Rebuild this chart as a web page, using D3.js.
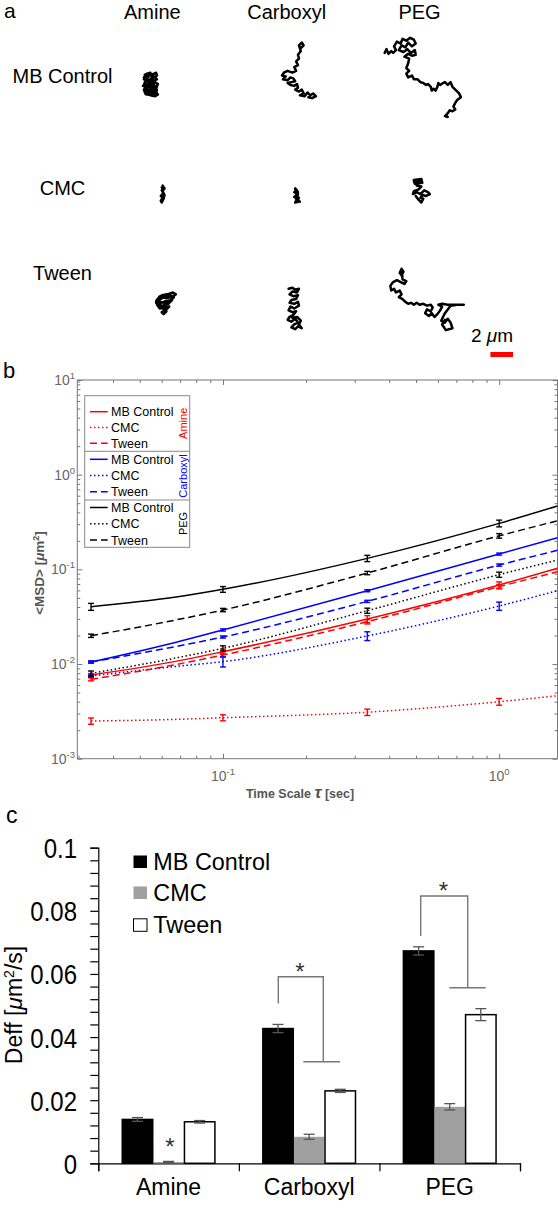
<!DOCTYPE html>
<html><head><meta charset="utf-8">
<script src="https://cdn.jsdelivr.net/npm/d3@7"></script>
<style>
body{margin:0;background:#fff}
svg{display:block}
text{font-family:"Liberation Sans",Arial,Helvetica,sans-serif}
</style>
</head><body>
<svg id="fig" width="558" height="1211"></svg>
<script>
// ================= DATA =================
const surfaces = ["Amine", "Carboxyl", "PEG"];
const treatments = ["MB Control", "CMC", "Tween"];

// ---- Panel a: trajectories, camera pixels relative to cell anchor (1 px = 1/12 µm)
const UM_PER_PX = 1 / 12;
const scaleBarUm = 2;
const trajAmineMB = [[-2,-12],[-8,-10],[-4,-7],[-9,-5],[-3,-4],[2,-8],[5,-5],[0,-2],[-6,0],[-10,2],[-5,4],[1,1],[5,3],[2,6],[-4,7],[-8,9],[-3,11],[2,9],[6,11],[3,13],[-2,12],[-6,8],[-1,5],[4,4],[6,0],[1,-3],[-5,-3],[-9,-7],[-6,-11],[0,-10],[4,-12],[5,-9],[1,-6],[-3,0],[-7,5],[-2,8],[4,7],[5,10],[0,12],[-7,11],[-9,6],[-5,2],[-8,-2],[-4,-9],[2,-11],[-1,-8],[3,-2],[-2,3],[2,5],[-6,-6],[-9,1],[-4,10],[3,11],[5,6],[0,3],[-4,-2]];
const trajCarboxylMB = [[15,-38],[18,-41],[16,-44],[13,-41],[15,-35],[12,-31],[13,-27],[10,-24],[12,-20],[8,-18],[10,-14],[6,-12],[1,-14],[-3,-12],[-5,-9],[-1,-8],[-4,-5],[1,-4],[4,-7],[7,-6],[9,-3],[5,-2],[1,-1],[4,1],[8,2],[11,0],[12,4],[9,6],[13,8],[16,6],[18,10],[14,12],[19,13],[22,9],[25,12],[28,10],[31,13],[27,15],[23,14]];
const trajPEGMB = [[-37,-33],[-35,-37],[-33,-32],[-30,-35],[-28,-33],[-25,-36],[-27,-40],[-24,-45],[-20,-43],[-18,-48],[-14,-46],[-10,-49],[-6,-47],[-4,-43],[-8,-40],[-12,-44],[-15,-39],[-19,-41],[-22,-36],[-17,-34],[-13,-37],[-9,-33],[-5,-36],[-4,-31],[-8,-30],[-12,-32],[-16,-29],[-11,-27],[-12,-22],[-14,-17],[-11,-14],[-14,-11],[-12,-7],[-8,-9],[-6,-5],[-2,-5],[1,-2],[4,-1],[7,1],[9,0],[12,3],[13,7],[15,5],[17,7],[19,3],[20,-1],[22,1],[25,-1],[27,-2],[30,1],[33,-2],[35,3],[38,6],[42,10],[44,14],[40,17],[38,20],[36,24],[38,27],[35,29],[32,28],[30,31],[28,33],[30,35],[27,34]];
const trajAmineCMC = [[11,-10],[13,-7],[10,-5],[12,-2],[9,1],[11,3],[9,6],[10,8],[12,4],[13,0],[11,-3],[12,-6],[10,-8]];
const trajCarboxylCMC = [[9,-7],[11,-5],[8,-3],[12,-1],[9,1],[13,3],[10,5],[14,7],[9,8],[11,4],[8,2],[12,0],[10,-4],[9,-6],[12,-3],[10,2],[13,6]];
const trajPEGCMC = [[-6,-16],[2,-17],[3,-13],[-5,-12],[-6,-15],[0,-15],[-3,-10],[2,-9],[-1,-6],[-6,-4],[-7,-1],[-3,-3],[1,-1],[5,-5],[9,-3],[11,-1],[7,1],[3,0],[1,3],[4,4],[2,8],[-1,5],[-4,1]];
const trajAmineTween = [[6,0],[10,-5],[16,-6],[22,-8],[25,-6],[20,-3],[14,-2],[8,-4],[4,1],[9,3],[15,1],[21,0],[17,4],[11,6],[5,5],[8,9],[13,8],[18,7],[14,11],[10,13],[12,15],[15,12],[11,9],[7,6],[4,3],[9,-1],[13,-4],[19,-5],[23,-3],[18,2],[12,3],[7,2],[10,7],[16,9]];
const trajCarboxylTween = [[2,-12],[6,-13],[9,-11],[13,-12],[11,-8],[6,-9],[3,-6],[7,-4],[12,-5],[10,-1],[5,0],[3,3],[8,4],[12,2],[13,6],[8,9],[4,7],[2,11],[6,13],[10,12],[7,16],[3,18],[1,21],[5,23],[9,20],[12,24],[8,26],[5,29],[9,31],[12,28],[16,30],[13,26],[15,22],[11,18],[6,19]];
const trajPEGTween = [[-19,-33],[-17,-30],[-19,-26],[-21,-29],[-19,-33],[-18,-22],[-14,-20],[-16,-17],[-20,-19],[-24,-21],[-28,-19],[-31,-15],[-30,-10],[-27,-12],[-25,-8],[-21,-10],[-19,-6],[-22,-3],[-18,-1],[-15,2],[-12,4],[-9,3],[-6,5],[-3,3],[0,5],[4,4],[8,6],[12,5],[14,8],[12,12],[8,10],[6,14],[10,17],[13,14],[16,18],[19,15],[22,11],[24,7],[20,5],[24,4],[30,5],[38,5],[47,5],[40,5],[33,6],[30,10],[27,14],[25,18],[23,22],[27,24],[30,20],[33,24],[35,30],[28,32],[24,26],[27,21]];

// ---- Panel b: MSD vs time scale
const tau = [0.0333, 0.0667, 0.1, 0.333, 1.0, 1.626];
const tauErr = [0.0333, 0.1, 0.333, 1.0];
const msdAmineMB = [0.00766, 0.0106, 0.0135, 0.0299, 0.0684, 0.1026];
const msdAmineCMC = [0.0025, 0.0026, 0.00271, 0.0031, 0.0040, 0.00463];
const msdAmineTween = [0.00689, 0.0098, 0.01245, 0.028, 0.0656, 0.0944];
const msdCarbMB = [0.0105, 0.0168, 0.0229, 0.0595, 0.145, 0.216];
const msdCarbCMC = [0.00747, 0.0094, 0.0106, 0.0198, 0.041, 0.0595];
const msdCarbTween = [0.0105, 0.0152, 0.0193, 0.0459, 0.111, 0.159];
const msdPegMB = [0.0403, 0.0506, 0.0615, 0.1306, 0.306, 0.467];
const msdPegCMC = [0.00798, 0.0115, 0.01466, 0.0366, 0.0879, 0.1255];
const msdPegTween = [0.0199, 0.029, 0.0372, 0.0915, 0.226, 0.326];
const errAmineMB = [0.00028, 0.00085, 0.0025, 0.0052];
const errAmineCMC = [0.00019, 0.0002, 0.00024, 0.00033];
const errAmineTween = [0.00025, 0.0006, 0.0015, 0.0035];
const errCarbMB = [0.00026, 0.0006, 0.0015, 0.0036];
const errCarbCMC = [0.0002, 0.0013, 0.0021, 0.0041];
const errCarbTween = [0.00025, 0.0005, 0.0012, 0.003];
const errPegMB = [0.0034, 0.0043, 0.0099, 0.025];
const errPegCMC = [0.00046, 0.0009, 0.0023, 0.0055];
const errPegTween = [0.0008, 0.0015, 0.0037, 0.0124];
const msdMajorTicks = [1e-3, 1e-2, 1e-1, 1, 10];
const msdTickExp = ["-3", "-2", "-1", "0", "1"];
const tauMajorTicks = [0.1, 1];
const tauTickExp = ["-1", "0"];

// ---- Panel c: Deff bars
const deffMB = [0.0139, 0.0427, 0.0673];
const deffCMC = [0.0004, 0.0084, 0.0179];
const deffTween = [0.01315, 0.02295, 0.0471];
const deffErrMB = [0.0006, 0.0013, 0.0013];
const deffErrCMC = [0.0002, 0.0008, 0.001];
const deffErrTween = [0.0004, 0.0005, 0.0019];
const deffTicks = [0, 0.02, 0.04, 0.06, 0.08, 0.1];
const deffTickLabels = ["0", "0.02", "0.04", "0.06", "0.08", "0.1"];

// ================= DRAW =================
const svg = d3.select("#fig");

// ---------- Panel a ----------
const gA = svg.append("g");
gA.append("text").attr("x", 4).attr("y", 18).attr("font-size", 21).text("a");
const colX = d3.scaleOrdinal(surfaces, [152.3, 286.7, 419.5]);
const rowY = d3.scaleOrdinal(treatments, [84, 195, 300]);
const rowLabelY = d3.scaleOrdinal(treatments, [83, 195, 280]);
const um = d3.scaleLinear().domain([0, 1]).range([0, 11.3]);

surfaces.forEach(s => gA.append("text").attr("x", colX(s)).attr("y", 18.5)
  .attr("text-anchor", "middle").attr("font-size", 20).text(s));
treatments.forEach(t => gA.append("text").attr("x", 62.5).attr("y", rowLabelY(t))
  .attr("text-anchor", "middle").attr("font-size", 20).text(t));

const trajList = [
  {s: "Amine", t: "MB Control", pts: trajAmineMB},
  {s: "Carboxyl", t: "MB Control", pts: trajCarboxylMB},
  {s: "PEG", t: "MB Control", pts: trajPEGMB},
  {s: "Amine", t: "CMC", pts: trajAmineCMC},
  {s: "Carboxyl", t: "CMC", pts: trajCarboxylCMC},
  {s: "PEG", t: "CMC", pts: trajPEGCMC},
  {s: "Amine", t: "Tween", pts: trajAmineTween},
  {s: "Carboxyl", t: "Tween", pts: trajCarboxylTween},
  {s: "PEG", t: "Tween", pts: trajPEGTween}
];
trajList.forEach(tr => {
  const line = d3.line()
    .x(p => colX(tr.s) + um(p[0] * UM_PER_PX))
    .y(p => rowY(tr.t) + um(p[1] * UM_PER_PX));
  gA.append("path").attr("d", line(tr.pts)).attr("fill", "none")
    .attr("stroke", "#000").attr("stroke-width", 2.5)
    .attr("stroke-linejoin", "round").attr("stroke-linecap", "round");
});
gA.append("rect").attr("x", 513 - um(scaleBarUm)).attr("y", 352)
  .attr("width", um(scaleBarUm)).attr("height", 5).attr("fill", "#ff0000");
const sbt = gA.append("text").attr("x", 513).attr("y", 342).attr("text-anchor", "end").attr("font-size", 19);
sbt.append("tspan").text(scaleBarUm + " ");
sbt.append("tspan").attr("font-style", "italic").text("\u03bc");
sbt.append("tspan").text("m");

// ---------- Panel b ----------
const gB = svg.append("g");
gB.append("text").attr("x", 3).attr("y", 378).attr("font-size", 22).text("b");
const L = 77.3, R = 557.5, T = 380, B = 758.7;
const bx = d3.scaleLog().domain([0.0297, 1.626]).range([L, R]);
const by = d3.scaleLog().domain([1e-3, 10]).range([B, T]);
const axCol = "#777";

function styleAxis(g) {
  g.select(".domain").remove();
  g.selectAll(".tick line").attr("stroke", axCol);
  g.selectAll(".tick text").remove();
}
const yMinor = by.ticks().filter(v => !msdMajorTicks.includes(v));
const xMinor = bx.ticks().filter(v => !tauMajorTicks.some(m => Math.abs(m - v) < 1e-9));
gB.append("g").attr("transform", `translate(${L},0)`).call(d3.axisLeft(by).tickValues(msdMajorTicks).tickSize(-5)).call(styleAxis);
gB.append("g").attr("transform", `translate(${L},0)`).call(d3.axisLeft(by).tickValues(yMinor).tickSize(-3)).call(styleAxis);
gB.append("g").attr("transform", `translate(${R},0)`).call(d3.axisRight(by).tickValues(msdMajorTicks).tickSize(-5)).call(styleAxis);
gB.append("g").attr("transform", `translate(${R},0)`).call(d3.axisRight(by).tickValues(yMinor).tickSize(-3)).call(styleAxis);
gB.append("g").attr("transform", `translate(0,${B})`).call(d3.axisBottom(bx).tickValues(tauMajorTicks).tickSize(-5)).call(styleAxis);
gB.append("g").attr("transform", `translate(0,${B})`).call(d3.axisBottom(bx).tickValues(xMinor).tickSize(-3)).call(styleAxis);
gB.append("g").attr("transform", `translate(0,${T})`).call(d3.axisTop(bx).tickValues(tauMajorTicks).tickSize(-5)).call(styleAxis);
gB.append("g").attr("transform", `translate(0,${T})`).call(d3.axisTop(bx).tickValues(xMinor).tickSize(-3)).call(styleAxis);
gB.append("rect").attr("x", L).attr("y", T).attr("width", R - L).attr("height", B - T)
  .attr("fill", "none").attr("stroke", axCol).attr("stroke-width", 1);

msdMajorTicks.forEach((v, i) => {
  const t = gB.append("text").attr("x", 75).attr("y", by(v) + 5).attr("text-anchor", "end")
    .attr("font-size", 14).attr("fill", "#666");
  t.append("tspan").text("10");
  t.append("tspan").attr("dy", -6).attr("font-size", 9.5).text(msdTickExp[i]);
});
tauMajorTicks.forEach((v, i) => {
  const t = gB.append("text").attr("x", bx(v)).attr("y", 780.5).attr("text-anchor", "middle")
    .attr("font-size", 14).attr("fill", "#666");
  t.append("tspan").text("10");
  t.append("tspan").attr("dy", -6).attr("font-size", 9.5).text(tauTickExp[i]);
});
const xt = gB.append("text").attr("x", 300).attr("y", 798).attr("text-anchor", "middle")
  .attr("font-size", 12.5).attr("font-weight", "bold").attr("fill", "#555");
xt.append("tspan").text("Time Scale ");
xt.append("tspan").attr("font-style", "italic").attr("font-size", 17).text("\u03c4");
xt.append("tspan").text(" [sec]");
const yt = gB.append("text").attr("transform", "translate(44,573) rotate(-90)").attr("text-anchor", "middle")
  .attr("font-size", 13.5).attr("font-weight", "bold").attr("fill", "#555");
yt.append("tspan").text("<MSD> [");
yt.append("tspan").attr("font-style", "italic").text("\u03bc");
yt.append("tspan").text("m");
yt.append("tspan").attr("dy", -5).attr("font-size", 9).text("2");
yt.append("tspan").attr("dy", 5).text("]");

const dashes = {"MB Control": null, "CMC": "1.5,2.5", "Tween": "7,4"};
const series = [
  {sf: "Amine", tr: "MB Control", v: msdAmineMB, e: errAmineMB, c: "#ff0000"},
  {sf: "Amine", tr: "CMC", v: msdAmineCMC, e: errAmineCMC, c: "#ff0000"},
  {sf: "Amine", tr: "Tween", v: msdAmineTween, e: errAmineTween, c: "#ff0000"},
  {sf: "Carboxyl", tr: "MB Control", v: msdCarbMB, e: errCarbMB, c: "#0000ff"},
  {sf: "Carboxyl", tr: "CMC", v: msdCarbCMC, e: errCarbCMC, c: "#0000ff"},
  {sf: "Carboxyl", tr: "Tween", v: msdCarbTween, e: errCarbTween, c: "#0000ff"},
  {sf: "PEG", tr: "MB Control", v: msdPegMB, e: errPegMB, c: "#000000"},
  {sf: "PEG", tr: "CMC", v: msdPegCMC, e: errPegCMC, c: "#000000"},
  {sf: "PEG", tr: "Tween", v: msdPegTween, e: errPegTween, c: "#000000"}
];
const msdLine = d3.line().x(d => bx(d[0])).y(d => by(d[1])).curve(d3.curveMonotoneX);
series.slice().reverse().forEach(s => {
  gB.append("path").attr("d", msdLine(tau.map((t, i) => [t, s.v[i]])))
    .attr("fill", "none").attr("stroke", s.c).attr("stroke-width", 1.5)
    .attr("stroke-dasharray", dashes[s.tr]);
});
series.forEach(s => {
  tauErr.forEach((t, k) => {
    const m = s.v[tau.indexOf(t)], e = s.e[k];
    const x = bx(t), y1 = by(m - e), y2 = by(m + e);
    const g = gB.append("g").attr("stroke", s.c).attr("stroke-width", 1.4);
    g.append("line").attr("x1", x).attr("x2", x).attr("y1", y1).attr("y2", y2);
    g.append("line").attr("x1", x - 3).attr("x2", x + 3).attr("y1", y1).attr("y2", y1);
    g.append("line").attr("x1", x - 3).attr("x2", x + 3).attr("y1", y2).attr("y2", y2);
  });
});

const lgB = gB.append("g");
lgB.append("rect").attr("x", 84.7).attr("y", 395.7).attr("width", 105).attr("height", 151.6)
  .attr("fill", "#fff").attr("stroke", "#888").attr("stroke-width", 1);
[451.3, 500].forEach(y => lgB.append("line").attr("x1", 84.7).attr("x2", 189.7)
  .attr("y1", y).attr("y2", y).attr("stroke", "#888").attr("stroke-width", 1));
const legRowY = [411.7, 427.5, 443.3, 459.3, 475.5, 491.7, 507.5, 523.8, 540];
series.forEach((s, i) => {
  lgB.append("line").attr("x1", 90).attr("x2", 107.7).attr("y1", legRowY[i]).attr("y2", legRowY[i])
    .attr("stroke", s.c).attr("stroke-width", 1.5).attr("stroke-dasharray", dashes[s.tr]);
  lgB.append("text").attr("x", 111).attr("y", legRowY[i] + 4.5).attr("font-size", 12.5).text(s.tr);
});
const grpColor = ["#ff0000", "#0000ff", "#000000"];
const grpCy = [423.3, 476, 523.5];
surfaces.forEach((sf, i) => {
  lgB.append("text").attr("transform", `translate(187,${grpCy[i]}) rotate(-90)`)
    .attr("text-anchor", "middle").attr("font-size", 11).attr("fill", grpColor[i]).text(sf);
});

// ---------- Panel c ----------
const gC = svg.append("g");
gC.append("text").attr("x", 6).attr("y", 823).attr("font-size", 23).text("c");
const cAxL = 98.3, cAxR = 520;
const cx0 = d3.scaleBand().domain(surfaces).range([cAxL, cAxR]);
const cx1 = d3.scaleBand().domain(treatments).range([0, cx0.bandwidth()]).paddingInner(0.02).paddingOuter(0.77);
const cy = d3.scaleLinear().domain([0, 0.1]).range([1163.3, 847.7]);

const minorC = d3.range(0, 0.1001, 0.004);
gC.append("g").attr("transform", `translate(${cAxL},0)`)
  .call(d3.axisLeft(cy).tickValues(minorC).tickSize(8).tickFormat(""))
  .call(g => { g.select(".domain").attr("stroke", "#000").attr("stroke-width", 1.2); g.selectAll(".tick line").attr("stroke", "#000").attr("stroke-width", 1.2); });
deffTicks.forEach((v, i) => {
  gC.append("text").attr("transform", `translate(77,${cy(v) + 10.5}) scale(1,1.15)`)
    .attr("text-anchor", "end").attr("font-size", 24).text(deffTickLabels[i]);
});
gC.append("g").attr("transform", `translate(0,${cy(0)})`)
  .call(d3.axisBottom(d3.scaleLinear().domain([0, 3]).range([cAxL, cAxR])).tickValues([0, 1, 2, 3]).tickSize(8).tickFormat(""))
  .call(g => { g.select(".domain").attr("stroke", "#000").attr("stroke-width", 1.2); g.selectAll(".tick line").attr("stroke", "#000").attr("stroke-width", 1.2); });
surfaces.forEach(s => gC.append("text").attr("x", cx0(s) + cx0.bandwidth() / 2).attr("y", 1195)
  .attr("text-anchor", "middle").attr("font-size", 23).text(s));
const cyt = gC.append("text").attr("transform", "translate(22,1005) rotate(-90)")
  .attr("text-anchor", "middle").attr("font-size", 23);
cyt.append("tspan").text("Deff [");
cyt.append("tspan").attr("font-style", "italic").text("\u03bc");
cyt.append("tspan").text("m");
cyt.append("tspan").attr("dy", -8).attr("font-size", 14).text("2");
cyt.append("tspan").attr("dy", 8).text("/s]");

const barVals = {"MB Control": deffMB, "CMC": deffCMC, "Tween": deffTween};
const barErrs = {"MB Control": deffErrMB, "CMC": deffErrCMC, "Tween": deffErrTween};
const barFill = {"MB Control": "#000", "CMC": "#a0a0a0", "Tween": "#fff"};
const barStroke = {"MB Control": "#000", "CMC": "none", "Tween": "#000"};
surfaces.forEach((s, i) => {
  treatments.forEach(t => {
    const v = barVals[t][i];
    const x = cx0(s) + cx1(t);
    gC.append("rect").attr("x", x).attr("y", cy(v)).attr("width", cx1.bandwidth())
      .attr("height", cy(0) - cy(v)).attr("fill", barFill[t]).attr("stroke", barStroke[t]).attr("stroke-width", 1.5);
  });
});
surfaces.forEach((s, i) => {
  treatments.forEach(t => {
    const v = barVals[t][i], e = barErrs[t][i];
    const xm = cx0(s) + cx1(t) + cx1.bandwidth() / 2;
    const g = gC.append("g").attr("stroke", "#555").attr("stroke-width", 1.3);
    g.append("line").attr("x1", xm).attr("x2", xm).attr("y1", cy(v - e)).attr("y2", cy(v + e));
    g.append("line").attr("x1", xm - 5.5).attr("x2", xm + 5.5).attr("y1", cy(v - e)).attr("y2", cy(v - e));
    g.append("line").attr("x1", xm - 5.5).attr("x2", xm + 5.5).attr("y1", cy(v + e)).attr("y2", cy(v + e));
  });
});
const brk = gC.append("g").attr("stroke", "#777").attr("stroke-width", 1.4).attr("fill", "none");
brk.append("path").attr("d", "M278.3,1003.5V976.7H323.3V1061.7 M303.3,1061.7H340");
brk.append("path").attr("d", "M420.7,936V896H467.7V987.7 M449.3,987.7H485.7");
function star(x, yc) {
  gC.append("text").attr("x", x).attr("y", yc + 13.5).attr("text-anchor", "middle")
    .attr("font-size", 24).attr("fill", "#333").text("*");
}
star(300, 966.7);
star(443.3, 885);
star(170, 1141.7);

const lgC = gC.append("g");
const legCY = [870, 901, 933.3];
treatments.forEach((t, i) => {
  lgC.append("rect").attr("x", 133.5).attr("y", legCY[i] - 14.5).attr("width", 13.5).attr("height", 12.5)
    .attr("fill", barFill[t]).attr("stroke", t === "Tween" ? "#000" : "none").attr("stroke-width", 1);
  lgC.append("text").attr("x", 153.3).attr("y", legCY[i]).attr("font-size", 23.4).text(t);
});
</script>
</body></html>
